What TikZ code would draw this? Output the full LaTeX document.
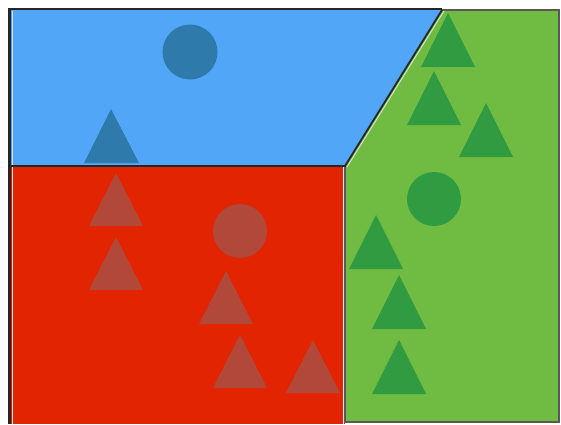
\documentclass[tikz,border=0pt]{standalone}
\definecolor{bluebg}{RGB}{82,166,248}
\definecolor{blueshape}{RGB}{46,122,170}
\definecolor{redbg}{RGB}{227,36,0}
\definecolor{redshape}{RGB}{178,72,58}
\definecolor{greenbg}{RGB}{112,188,66}
\definecolor{greenshape}{RGB}{49,155,66}
\tikzset{
  edge/.style={draw=black!85,line width=1.8pt},
  softedge/.style={draw=gray!70!black,line width=1.2pt},
}
\begin{document}
\begin{tikzpicture}[x=1pt,y=-1pt]
\useasboundingbox (0,0) rectangle (561,424);
\fill[white] (0,0) rectangle (561,424);
% regions
\fill[redbg] (11,166) rectangle (345,424);
\fill[greenbg] (345,166) -- (442,10) -- (559,10) -- (559,422) -- (345,422) -- cycle;
\fill[bluebg] (11,10) -- (442,10) -- (345,166) -- (11,166) -- cycle;
% shapes: blue
\fill[blueshape] (190,52) circle (27.5);
\fill[blueshape] (111,109) -- (84,163) -- (139,163) -- cycle;
% shapes: red
\fill[redshape] (240,231) circle (27);
\foreach \x/\y in {116/173, 116/237, 226/271, 240/335, 313/340}
  \fill[redshape] (\x,\y) -- ++(-27,53) -- ++(54,0) -- cycle;
% shapes: green
\fill[greenshape] (434,199) circle (27);
\foreach \x/\y in {448/13, 434/71, 486/103, 376/215, 399/275, 399/340}
  \fill[greenshape] (\x,\y) -- ++(-27,54) -- ++(54,0) -- cycle;
% borders
\draw[softedge] (442,10) -- (559,10) -- (559,422) -- (345,422) -- (345,166);
\draw[white!75!gray,line width=1pt] (12.3,166) -- (12.3,424);
\draw[white!75!gray,line width=1pt] (12.3,10.5) -- (12.3,166);
\draw[white!85!gray,line width=0.8pt] (343.5,167) -- (343.5,424);
\draw[white!80!gray,line width=0.8pt] (347,167) -- (444,11);
\draw[black!85,line width=3pt] (9.5,8) -- (9.5,424);
\draw[edge] (8,9.3) -- (442,9.3);
\draw[edge] (11,166) -- (345,166) -- (442,10);
\end{tikzpicture}
\end{document}
